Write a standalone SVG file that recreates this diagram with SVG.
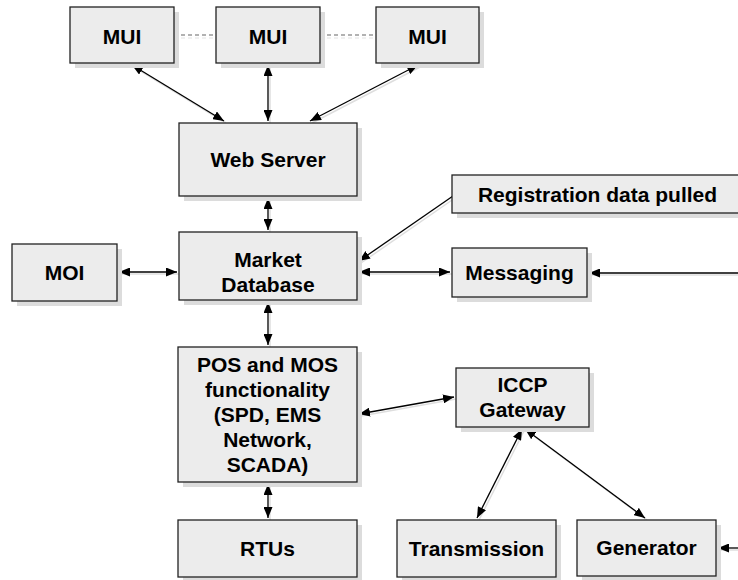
<svg xmlns="http://www.w3.org/2000/svg" width="738" height="580" viewBox="0 0 738 580">
  <defs>
    <marker id="arr" viewBox="0 0 11 9" refX="11" refY="4.5" markerWidth="11" markerHeight="9" markerUnits="userSpaceOnUse" orient="auto-start-reverse">
      <path d="M0,0 L11,4.5 L0,9 Z" fill="#000"/>
    </marker>
    <style>
      .shadow { fill: #dcdcdc; }
      .box { fill: #ececec; stroke: #222; stroke-width: 1.3; }
      .lbl { font-family: "Liberation Sans", Arial, Helvetica, sans-serif; font-weight: bold; font-size: 21px; fill: #000; text-anchor: middle; }
      .wire { stroke: #000; stroke-width: 1.3; fill: none; }
      .wire-sh { stroke: #dedede; stroke-width: 1.5; fill: none; }
      .dash { stroke: #666; stroke-width: 1.2; stroke-dasharray: 4 3; fill: none; }
      .dash-sh { stroke: #e2e2e2; stroke-width: 1; stroke-dasharray: 4 3; fill: none; }
    </style>
  </defs>

  <!-- connectors -->
  <g id="connectors">
    <!-- dashed peer links between MUIs -->
    <line class="dash-sh" x1="174" y1="38" x2="216" y2="38"/>
    <line class="dash" x1="174" y1="35" x2="216" y2="35"/>
    <line class="dash-sh" x1="320" y1="38" x2="376" y2="38"/>
    <line class="dash" x1="320" y1="35" x2="376" y2="35"/>

    <!-- soft shadows under connectors -->
    <g transform="translate(2,2)">
      <line class="wire-sh" x1="132" y1="65" x2="224" y2="121"/>
      <line class="wire-sh" x1="268" y1="65" x2="268" y2="121"/>
      <line class="wire-sh" x1="418" y1="65" x2="310" y2="121"/>
      <line class="wire-sh" x1="268" y1="198" x2="268" y2="230"/>
      <line class="wire-sh" x1="268" y1="302" x2="268" y2="345"/>
      <line class="wire-sh" x1="268" y1="484" x2="268" y2="518"/>
      <line class="wire-sh" x1="119" y1="272" x2="177" y2="272"/>
      <line class="wire-sh" x1="359" y1="272" x2="450" y2="272"/>
      <line class="wire-sh" x1="453" y1="196" x2="359" y2="261"/>
      <line class="wire-sh" x1="738" y1="273" x2="589" y2="273"/>
      <line class="wire-sh" x1="359" y1="414" x2="454" y2="397"/>
      <line class="wire-sh" x1="522" y1="429" x2="477" y2="518"/>
      <line class="wire-sh" x1="525" y1="429" x2="645" y2="518"/>
      <line class="wire-sh" x1="738" y1="548" x2="718" y2="548"/>
    </g>

    <line class="wire" x1="132" y1="65" x2="224" y2="121" marker-start="url(#arr)" marker-end="url(#arr)"/>
    <line class="wire" x1="268" y1="65" x2="268" y2="121" marker-start="url(#arr)" marker-end="url(#arr)"/>
    <line class="wire" x1="418" y1="65" x2="310" y2="121" marker-start="url(#arr)" marker-end="url(#arr)"/>
    <line class="wire" x1="268" y1="198" x2="268" y2="230" marker-start="url(#arr)" marker-end="url(#arr)"/>
    <line class="wire" x1="268" y1="302" x2="268" y2="345" marker-start="url(#arr)" marker-end="url(#arr)"/>
    <line class="wire" x1="268" y1="484" x2="268" y2="518" marker-start="url(#arr)" marker-end="url(#arr)"/>
    <line class="wire" x1="119" y1="272" x2="177" y2="272" marker-start="url(#arr)" marker-end="url(#arr)"/>
    <line class="wire" x1="359" y1="272" x2="450" y2="272" marker-start="url(#arr)" marker-end="url(#arr)"/>
    <line class="wire" x1="453" y1="196" x2="359" y2="261" marker-end="url(#arr)"/>
    <line class="wire" x1="738" y1="273" x2="589" y2="273" marker-end="url(#arr)"/>
    <line class="wire" x1="359" y1="414" x2="454" y2="397" marker-start="url(#arr)" marker-end="url(#arr)"/>
    <line class="wire" x1="522" y1="429" x2="477" y2="518" marker-start="url(#arr)" marker-end="url(#arr)"/>
    <line class="wire" x1="525" y1="429" x2="645" y2="518" marker-start="url(#arr)" marker-end="url(#arr)"/>
    <line class="wire" x1="738" y1="548" x2="718" y2="548" marker-end="url(#arr)"/>
  </g>

  <g id="mui1">
    <rect class="shadow" x="75" y="12" width="104" height="56"/>
    <rect class="box" x="70" y="7" width="104" height="56"/>
    <text class="lbl" x="122" y="44">MUI</text>
  </g>
  <g id="mui2">
    <rect class="shadow" x="221" y="12" width="104" height="56"/>
    <rect class="box" x="216" y="7" width="104" height="56"/>
    <text class="lbl" x="268" y="44">MUI</text>
  </g>
  <g id="mui3">
    <rect class="shadow" x="381" y="12" width="103" height="56"/>
    <rect class="box" x="376" y="7" width="103" height="56"/>
    <text class="lbl" x="427.5" y="44">MUI</text>
  </g>
  <g id="web-server">
    <rect class="shadow" x="184" y="128" width="178" height="73"/>
    <rect class="box" x="179" y="123" width="178" height="73"/>
    <text class="lbl" x="268" y="167">Web Server</text>
  </g>
  <g id="market-database">
    <rect class="shadow" x="184" y="237" width="178" height="68"/>
    <rect class="box" x="179" y="232" width="178" height="68"/>
    <text class="lbl" x="268" y="267">Market</text>
    <text class="lbl" x="268" y="292">Database</text>
  </g>
  <g id="moi">
    <rect class="shadow" x="17" y="249" width="105" height="57"/>
    <rect class="box" x="12" y="244" width="105" height="57"/>
    <text class="lbl" x="64.5" y="280">MOI</text>
  </g>
  <g id="registration">
    <rect class="shadow" x="457" y="180" width="300" height="38"/>
    <rect class="box" x="452" y="175" width="300" height="38"/>
    <text class="lbl" x="597.5" y="202">Registration data pulled</text>
  </g>
  <g id="messaging">
    <rect class="shadow" x="457" y="253" width="135" height="49"/>
    <rect class="box" x="452" y="248" width="135" height="49"/>
    <text class="lbl" x="519.5" y="280">Messaging</text>
  </g>
  <g id="pos-mos">
    <rect class="shadow" x="183" y="352" width="179" height="135"/>
    <rect class="box" x="178" y="347" width="179" height="135"/>
    <text class="lbl" x="267.5" y="372">POS and MOS</text>
    <text class="lbl" x="267.5" y="397">functionality</text>
    <text class="lbl" x="267.5" y="422">(SPD, EMS</text>
    <text class="lbl" x="267.5" y="447">Network,</text>
    <text class="lbl" x="267.5" y="472">SCADA)</text>
  </g>
  <g id="iccp-gateway">
    <rect class="shadow" x="461" y="373" width="133" height="59"/>
    <rect class="box" x="456" y="368" width="133" height="59"/>
    <text class="lbl" x="522.5" y="392">ICCP</text>
    <text class="lbl" x="522.5" y="417">Gateway</text>
  </g>
  <g id="rtus">
    <rect class="shadow" x="183" y="525" width="179" height="57"/>
    <rect class="box" x="178" y="520" width="179" height="57"/>
    <text class="lbl" x="267.5" y="556">RTUs</text>
  </g>
  <g id="transmission">
    <rect class="shadow" x="402" y="525" width="159" height="57"/>
    <rect class="box" x="397" y="520" width="159" height="57"/>
    <text class="lbl" x="476.5" y="556">Transmission</text>
  </g>
  <g id="generator">
    <rect class="shadow" x="582" y="525" width="139" height="56"/>
    <rect class="box" x="577" y="520" width="139" height="56"/>
    <text class="lbl" x="646.5" y="555">Generator</text>
  </g>
</svg>
